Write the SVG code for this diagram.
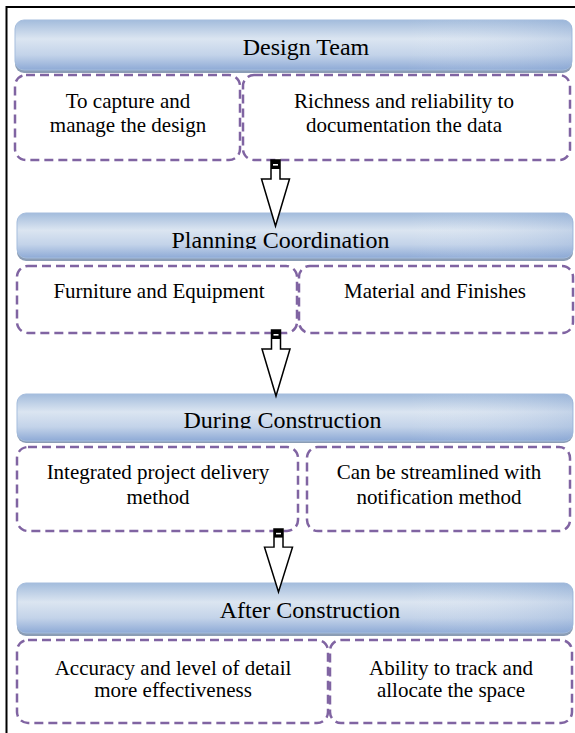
<svg xmlns="http://www.w3.org/2000/svg" xmlns:xlink="http://www.w3.org/1999/xlink" width="575" height="733" viewBox="0 0 575 733">
<defs>
<linearGradient id="hg" x1="0" y1="0" x2="0" y2="1">
<stop offset="0" stop-color="#a3bcdc"/>
<stop offset="0.38" stop-color="#dbe5f1"/>
<stop offset="0.7" stop-color="#c3d3e9"/>
<stop offset="1" stop-color="#8eaad6"/>
</linearGradient>
<linearGradient id="hh" x1="0" y1="0" x2="1" y2="0">
<stop offset="0" stop-color="#ffffff" stop-opacity="0"/>
<stop offset="0.7" stop-color="#ffffff" stop-opacity="0"/>
<stop offset="1" stop-color="#7f9fcf" stop-opacity="0.25"/>
</linearGradient>
<clipPath id="c2"><rect x="0" y="200" width="575" height="49"/></clipPath>
<clipPath id="c3"><rect x="0" y="380" width="575" height="48.5"/></clipPath>
<g id="arrow">
<path d="M-4.5,0 V19 H-14 L0,66 L14,19 H4.5 V0 Z" fill="#ffffff" stroke="#000000" stroke-width="1.5" stroke-linejoin="miter"/>
<rect x="-4.5" y="0" width="9" height="9" fill="#000000"/>
<rect x="-2.5" y="4" width="5" height="1.6" fill="#ffffff"/>
</g>
</defs>
<style>
.hdr-shadow{fill:#8b9db5;}
.hdr{fill:url(#hg);stroke:#a5bddd;stroke-width:1;}
.hdr2{fill:url(#hh);}
.sub{fill:none;stroke:#8064a2;stroke-width:2.5;stroke-dasharray:9 5;}
.ht{font-size:24px;fill:#000000;text-anchor:middle;}
.st{font-size:21px;fill:#000000;text-anchor:middle;}
</style>
<rect x="0" y="0" width="575" height="733" fill="#ffffff"/>
<path d="M6.5,733 V7 H575" fill="none" stroke="#000000" stroke-width="2"/>
<g font-family="'Liberation Serif', 'DejaVu Serif', serif">
<g id="h1">
<rect class="hdr-shadow" x="15" y="22" width="557" height="51" rx="9"/>
<rect class="hdr" x="15" y="20" width="557" height="50" rx="9"/>
<rect class="hdr2" x="15" y="20" width="557" height="50" rx="9"/>
<text class="ht" x="306" y="55">Design Team</text>
</g>
<g id="s1a">
<rect class="sub" x="15" y="75" width="225" height="85" rx="11"/>
<text class="st" x="128" y="108">To capture and</text>
<text class="st" x="128" y="132">manage the design</text>
</g>
<g id="s1b">
<rect class="sub" x="243" y="75" width="327" height="85" rx="11"/>
<text class="st" x="404" y="108">Richness and reliability to</text>
<text class="st" x="404" y="132">documentation the data</text>
</g>

<g id="h2">
<rect class="hdr-shadow" x="17" y="215" width="556" height="46" rx="9"/>
<rect class="hdr" x="17" y="213" width="556" height="45" rx="9"/>
<rect class="hdr2" x="17" y="213" width="556" height="45" rx="9"/>
<text class="ht" x="280.5" y="248" clip-path="url(#c2)">Planning Coordination</text>
</g>
<g id="s2a">
<rect class="sub" x="17" y="266" width="280" height="67" rx="11"/>
<text class="st" x="159" y="298">Furniture and Equipment</text>
</g>
<g id="s2b">
<rect class="sub" x="299" y="266" width="274" height="67" rx="11"/>
<text class="st" x="435" y="298">Material and Finishes</text>
</g>

<g id="h3">
<rect class="hdr-shadow" x="17" y="396" width="556" height="47" rx="9"/>
<rect class="hdr" x="17" y="394" width="556" height="47" rx="9"/>
<rect class="hdr2" x="17" y="394" width="556" height="47" rx="9"/>
<text class="ht" x="282.5" y="427.5" clip-path="url(#c3)">During Construction</text>
</g>
<g id="s3a">
<rect class="sub" x="17" y="447" width="281" height="84" rx="11"/>
<text class="st" x="158" y="479">Integrated project delivery</text>
<text class="st" x="158" y="504">method</text>
</g>
<g id="s3b">
<rect class="sub" x="307" y="447" width="263" height="84" rx="11"/>
<text class="st" x="439" y="479">Can be streamlined with</text>
<text class="st" x="439" y="504">notification method</text>
</g>

<g id="h4">
<rect class="hdr-shadow" x="17" y="585" width="556" height="51" rx="9"/>
<rect class="hdr" x="17" y="583" width="556" height="50" rx="9"/>
<rect class="hdr2" x="17" y="583" width="556" height="50" rx="9"/>
<text class="ht" x="310" y="618">After Construction</text>
</g>
<g id="s4a">
<rect class="sub" x="17" y="640" width="311" height="83" rx="11"/>
<text class="st" x="173" y="675">Accuracy and level of detail</text>
<text class="st" x="173" y="697">more effectiveness</text>
</g>
<g id="s4b">
<rect class="sub" x="330" y="640" width="242" height="83" rx="11"/>
<text class="st" x="451" y="675">Ability to track and</text>
<text class="st" x="451" y="697">allocate the space</text>
</g>
</g>
<g id="connectors">
<use xlink:href="#arrow" transform="translate(275.5,160)"/>
<use xlink:href="#arrow" transform="translate(276,330)"/>
<use xlink:href="#arrow" transform="translate(278.5,529) scale(1,0.955)"/>
</g>
</svg>
